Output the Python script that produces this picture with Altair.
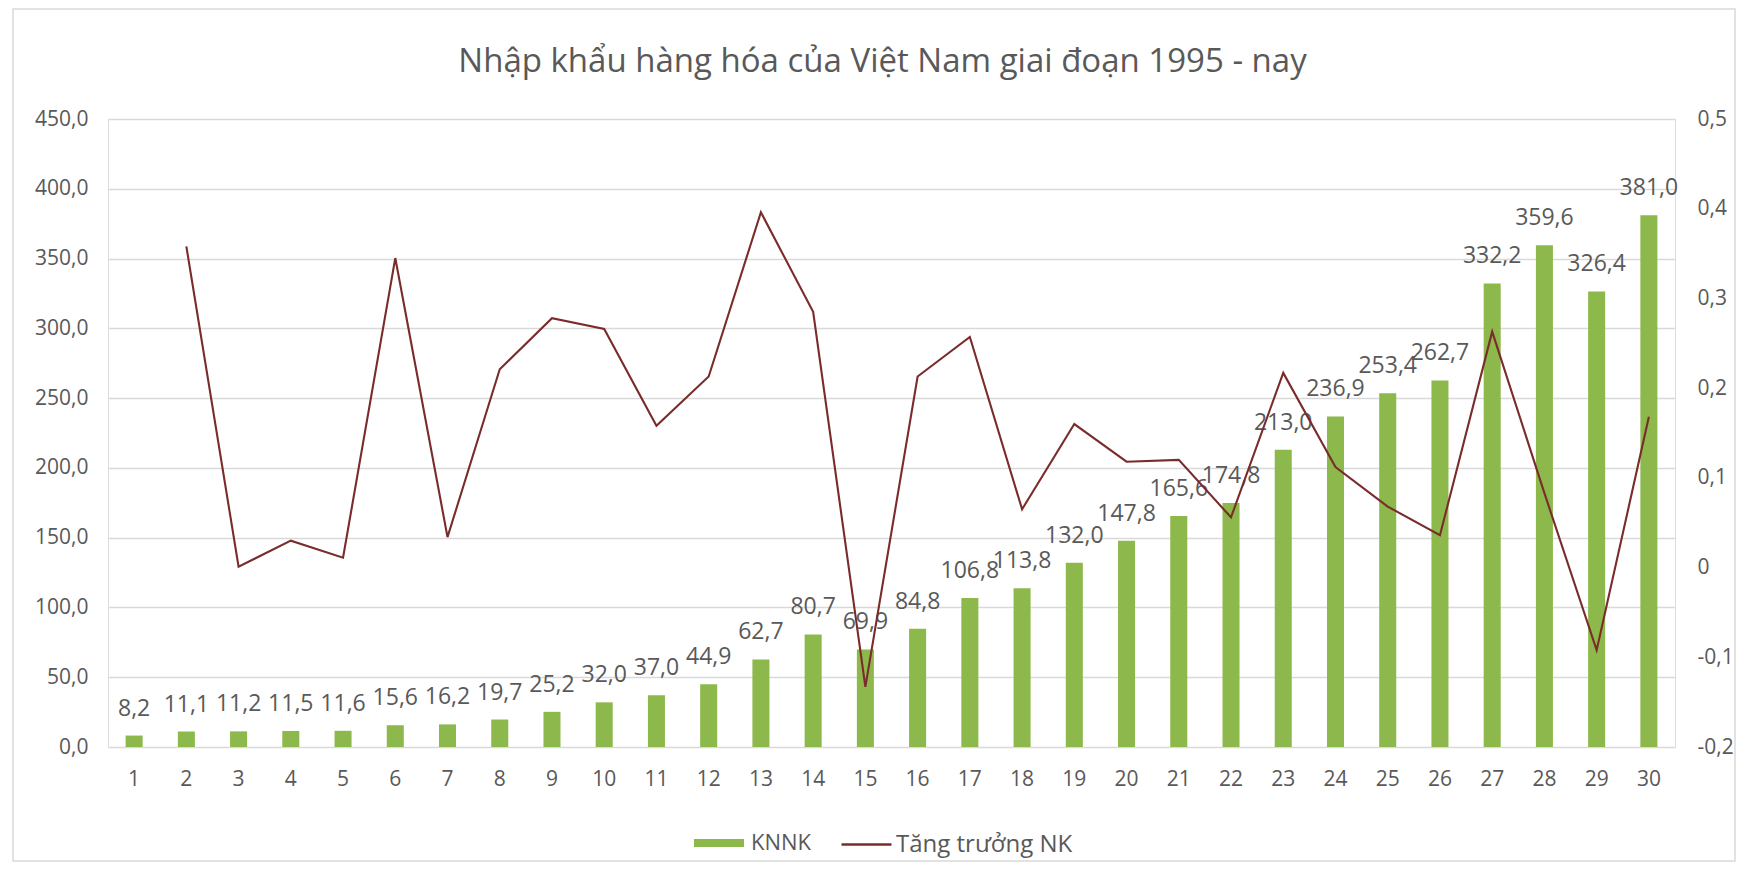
import altair as alt
import pandas as pd

# ---- data ----
years = list(range(1, 31))
knnk = [8.2, 11.1, 11.2, 11.5, 11.6, 15.6, 16.2, 19.7, 25.2, 32.0, 37.0, 44.9, 62.7, 80.7, 69.9,
        84.8, 106.8, 113.8, 132.0, 147.8, 165.6, 174.8, 213.0, 236.9, 253.4, 262.7, 332.2, 359.6,
        326.4, 381.0]
growth = [None, 0.358, 0.001, 0.030, 0.011, 0.345, 0.034, 0.221, 0.278, 0.266, 0.158, 0.213,
          0.396, 0.285, -0.133, 0.213, 0.257, 0.065, 0.160, 0.118, 0.120, 0.056, 0.217, 0.112,
          0.068, 0.036, 0.263, 0.083, -0.092, 0.168]
left_ticks = [0, 50, 100, 150, 200, 250, 300, 350, 400, 450]
right_ticks = [-0.2, -0.1, 0.0, 0.1, 0.2, 0.3, 0.4, 0.5]
series_bar = "KNNK"
series_line = "Tăng trưởng NK"
title_text = "Nhập khẩu hàng hóa của Việt Nam giai đoạn 1995 - nay"

# ---- styles ----
BAR_COLOR = "#8DB84C"
LINE_COLOR = "#7A2C2B"
TEXT_COLOR = "#595959"
GRID_COLOR = "#D9D9D9"
FONT = "Open Sans"
W, H = 1567, 628

df = pd.DataFrame({"nam": years, "knnk": knnk, "tang": growth,
                   "s_bar": series_bar, "s_line": series_line})

x_enc = alt.X("nam:O", scale=alt.Scale(paddingInner=0.674, paddingOuter=0.337),
              axis=alt.Axis(title=None, labelAngle=0, ticks=False, domain=False,
                            labelPadding=21, labelFont=FONT, labelFontSize=21,
                            labelColor=TEXT_COLOR, grid=False))

y_left = alt.Y("knnk:Q", scale=alt.Scale(domain=[0, 450], nice=False),
               axis=alt.Axis(values=left_ticks, title=None, ticks=False, domain=False,
                             labelPadding=20, labelFont=FONT, labelFontSize=21,
                             labelColor=TEXT_COLOR, gridColor=GRID_COLOR, gridWidth=1.5,
                             labelExpr="replace(format(datum.value, '.1f'), '.', ',')"))

base = alt.Chart(df)

bars = base.mark_bar().encode(
    x=x_enc,
    y=y_left,
    fill=alt.Fill("s_bar:N", scale=alt.Scale(domain=[series_bar], range=[BAR_COLOR]),
                  legend=alt.Legend(title=None, orient="none", legendX=586, legendY=699,
                                    symbolType="M-1,-0.16H1V0.16H-1Z", symbolSize=2500,
                                    symbolStrokeWidth=0, labelFont=FONT, labelFontSize=22,
                                    labelColor=TEXT_COLOR, labelOffset=7, labelLimit=400,
                                    padding=0)),
)

labels = base.transform_calculate(
    lbl="replace(format(datum.knnk, '.1f'), '.', ',')"
).mark_text(font=FONT, fontSize=23, color=TEXT_COLOR, baseline="middle", dy=-27).encode(
    x=x_enc,
    y=alt.Y("knnk:Q"),
    text="lbl:N",
)

line = base.mark_line(strokeWidth=2.1).encode(
    x=x_enc,
    y=alt.Y("tang:Q", scale=alt.Scale(domain=[-0.2, 0.5], nice=False, zero=False),
            axis=alt.Axis(orient="right", values=right_ticks, title=None, grid=False,
                          ticks=False, domain=False, labelPadding=22, labelFont=FONT,
                          labelFontSize=21, labelColor=TEXT_COLOR,
                          labelExpr="abs(datum.value) < 1e-9 ? '0' : (datum.value < 0 ? '-' + replace(format(-datum.value, '.1f'), '.', ',') : replace(format(datum.value, '.1f'), '.', ','))")),
    stroke=alt.Stroke("s_line:N", scale=alt.Scale(domain=[series_line], range=[LINE_COLOR]),
                      legend=alt.Legend(title=None, orient="none", legendX=732, legendY=699,
                                        symbolType="stroke", symbolSize=2500,
                                        symbolStrokeWidth=2.5, labelFont=FONT,
                                        labelFontSize=24, labelColor=TEXT_COLOR,
                                        labelOffset=3, labelLimit=400, padding=0)),
)

border = alt.Chart(pd.DataFrame({"k": [0]})).mark_rect(
    fill="transparent", stroke=GRID_COLOR, strokeWidth=1.5
).encode(x=alt.value(-95), x2=alt.value(1627), y=alt.value(-110), y2=alt.value(742))

chart = alt.layer(
    border,
    alt.layer(bars, labels),
    line,
).resolve_scale(y="independent").properties(
    width=W, height=H,
    title=alt.Title(title_text, font=FONT, fontSize=33, color=TEXT_COLOR, fontWeight="normal",
                    anchor="middle", frame="group", baseline="alphabetic", offset=-97, dx=-9),
    autosize=alt.AutoSizeParams(type="none"),
    padding={"left": 100, "top": 111, "right": 64, "bottom": 118},
).configure_view(strokeWidth=0).configure(background="white")

chart.save("out.html", embed_options={"renderer": "svg", "actions": False})
